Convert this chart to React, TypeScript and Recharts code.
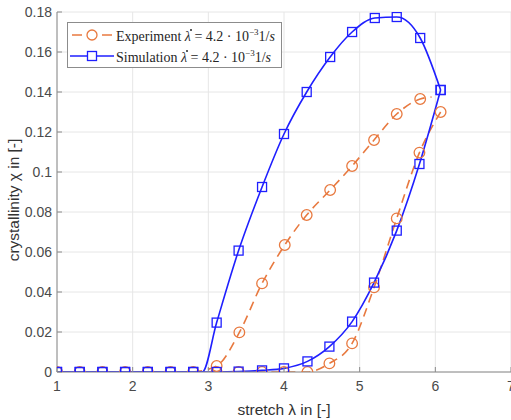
import React from "react";
import { CartesianGrid, Label, Line, LineChart, XAxis, YAxis } from "recharts";

const BLUE = "#1f1fff";
const ORANGE = "#e8793f";
const AXIS = "#8a8a8a";
const TICK_TEXT = "#4a4a4a";

const xTicks = [1, 2, 3, 4, 5, 6, 7];
const yTicks = [0, 0.02, 0.04, 0.06, 0.08, 0.1, 0.12, 0.14, 0.16, 0.18];

// simulation, loading branch (m = 0: no marker on that point)
const simLoadX = [1.0, 1.3, 1.6, 1.9, 2.2, 2.5, 2.8, 2.92, 3.11, 3.4, 3.71, 4.0, 4.3, 4.61, 4.9, 5.2, 5.49, 5.8, 6.07];
const simLoadY = [0, 0, 0, 0, 0, 0, 0, 0, 0.0247, 0.0607, 0.0925, 0.119, 0.14, 0.1575, 0.17, 0.177, 0.1775, 0.167, 0.141];
const simLoadM = [1, 1, 1, 1, 1, 1, 1, 0, 1, 1, 1, 1, 1, 1, 1, 1, 1, 1, 1];

// simulation, unloading branch
const simUnloadX = [6.07, 5.79, 5.49, 5.19, 4.9, 4.6, 4.31, 4.0, 3.71, 3.4, 3.11, 2.8, 2.5, 2.2, 1.9, 1.6, 1.3, 1.0];
const simUnloadY = [0.141, 0.104, 0.0707, 0.0447, 0.0252, 0.0127, 0.0053, 0.0018, 0.0008, 0.0002, 0, 0, 0, 0, 0, 0, 0, 0];

// experiment, loading branch
const expLoadX = [2.8, 3.11, 3.41, 3.71, 4.01, 4.3, 4.61, 4.9, 5.19, 5.49, 5.8, 5.95];
const expLoadY = [0, 0.003, 0.0198, 0.0443, 0.0635, 0.0785, 0.091, 0.103, 0.116, 0.129, 0.1365, 0.1375];
const expLoadM = [0, 1, 1, 1, 1, 1, 1, 1, 1, 1, 1, 0];

// experiment, unloading branch
const expUnloadX = [6.07, 5.79, 5.49, 5.19, 4.9, 4.6, 4.31, 4.0, 3.71, 3.4, 3.11, 2.8, 2.5, 2.2, 1.9, 1.6, 1.3, 1.0];
const expUnloadY = [0.13, 0.1097, 0.0768, 0.0423, 0.0143, 0.0043, 0, 0, 0, 0, 0, 0, 0, 0, 0, 0, 0, 0];

const toPoints = (xs: number[], ys: number[], ms?: number[]) =>
  xs.map((x, i) => ({ x, y: ys[i], m: ms ? ms[i] : 1 }));

const simLoad = toPoints(simLoadX, simLoadY, simLoadM);
const simUnload = toPoints(simUnloadX, simUnloadY);
const expLoad = toPoints(expLoadX, expLoadY, expLoadM);
const expUnload = toPoints(expUnloadX, expUnloadY);

const squareDot = (props: any) => {
  const { cx, cy, payload, index } = props;
  if (!payload.m) return <g key={index} />;
  return (
    <rect key={index} x={cx - 4.5} y={cy - 4.5} width={9} height={9} fill="none" stroke={BLUE} strokeWidth={1.3} />
  );
};

const circleDot = (props: any) => {
  const { cx, cy, payload, index } = props;
  if (!payload.m) return <g key={index} />;
  return <circle key={index} cx={cx} cy={cy} r={5.3} fill="none" stroke={ORANGE} strokeWidth={1.3} />;
};

// lambda with a dot on top (time derivative)
const lambdaDot = (
  <span style={{ position: "relative", display: "inline-block", fontStyle: "italic" }}>
    λ
    <span
      style={{
        position: "absolute",
        left: 5,
        top: 0,
        width: 2,
        height: 2,
        borderRadius: 1,
        background: "#262626",
      }}
    />
  </span>
);

const rate = (
  <>
    {lambdaDot}
    {" = 4.2 · 10"}
    <sup style={{ fontSize: 9, verticalAlign: 6 }}>−3</sup>1/<i>s</i>
  </>
);

function LegendBox() {
  return (
    <div
      style={{
        position: "absolute",
        left: 67,
        top: 22,
        border: "1px solid #8c8c8c",
        background: "#fff",
        padding: "1px 6px 1px 0",
        fontFamily: '"Liberation Serif", "DejaVu Serif", serif',
        fontSize: 14,
        color: "#262626",
        lineHeight: "16px",
        whiteSpace: "nowrap",
      }}
    >
      <div style={{ display: "flex", alignItems: "center" }}>
        <svg width={48} height={16}>
          <line x1={4} y1={8} x2={14} y2={8} stroke={ORANGE} strokeWidth={1.5} />
          <line x1={34} y1={8} x2={44} y2={8} stroke={ORANGE} strokeWidth={1.5} />
          <circle cx={24} cy={8} r={5} fill="#fff" stroke={ORANGE} strokeWidth={1.3} />
        </svg>
        <span>Experiment {rate}</span>
      </div>
      <div style={{ display: "flex", alignItems: "center" }}>
        <svg width={48} height={16}>
          <line x1={2} y1={8} x2={46} y2={8} stroke={BLUE} strokeWidth={1.5} />
          <rect x={19.5} y={3.5} width={9} height={9} fill="#fff" stroke={BLUE} strokeWidth={1.3} />
        </svg>
        <span>Simulation {rate}</span>
      </div>
    </div>
  );
}

const fmt = (v: number) => String(Number(v.toFixed(2)));

export default function App() {
  const tickStyle = { fontSize: 14, fill: TICK_TEXT, fontFamily: '"Liberation Sans", Arial, sans-serif' };
  return (
    <div style={{ position: "absolute", left: 0, top: 0, width: 511, height: 420, overflow: "hidden", background: "#fff" }}>
      <LineChart width={540} height={420} margin={{ top: 12, right: 29, bottom: 0, left: 0 }}>
        <CartesianGrid stroke="#e6e6e6" strokeWidth={1} />
        <XAxis
          type="number"
          dataKey="x"
          domain={[1, 7]}
          ticks={xTicks}
          allowDataOverflow
          height={48}
          tick={tickStyle}
          tickSize={-5}
          tickMargin={14}
          axisLine={{ stroke: AXIS }}
          tickLine={{ stroke: AXIS }}
        >
          <Label
            value="stretch λ in [-]"
            position="insideBottom"
            offset={5}
            style={{ fontSize: 15.5, fill: "#333", fontFamily: '"Liberation Sans", Arial, sans-serif' }}
          />
        </XAxis>
        <YAxis
          type="number"
          dataKey="y"
          domain={[0, 0.18]}
          ticks={yTicks}
          allowDataOverflow
          width={57}
          tick={tickStyle}
          tickFormatter={fmt}
          tickSize={-5}
          tickMargin={10}
          axisLine={{ stroke: AXIS }}
          tickLine={{ stroke: AXIS }}
        >
          <Label
            content={() => (
              <text
                x={13}
                y={200}
                transform="rotate(-90, 13, 200)"
                textAnchor="middle"
                dominantBaseline="central"
                style={{ fontSize: 15.5, fill: "#333", fontFamily: '"Liberation Sans", Arial, sans-serif' }}
              >
                crystallinity χ in [-]
              </text>
            )}
          />
        </YAxis>
        <Line
          data={expUnload}
          dataKey="y"
          type="monotone"
          stroke={ORANGE}
          strokeWidth={1.6}
          strokeDasharray="9 6"
          dot={circleDot}
          isAnimationActive={false}
        />
        <Line
          data={expLoad}
          dataKey="y"
          type="monotone"
          stroke={ORANGE}
          strokeWidth={1.6}
          strokeDasharray="9 6"
          dot={circleDot}
          isAnimationActive={false}
        />
        <Line
          data={simUnload}
          dataKey="y"
          type="monotone"
          stroke={BLUE}
          strokeWidth={1.6}
          dot={squareDot}
          isAnimationActive={false}
        />
        <Line
          data={simLoad}
          dataKey="y"
          type="monotone"
          stroke={BLUE}
          strokeWidth={1.6}
          dot={squareDot}
          isAnimationActive={false}
        />
      </LineChart>
      <LegendBox />
    </div>
  );
}
